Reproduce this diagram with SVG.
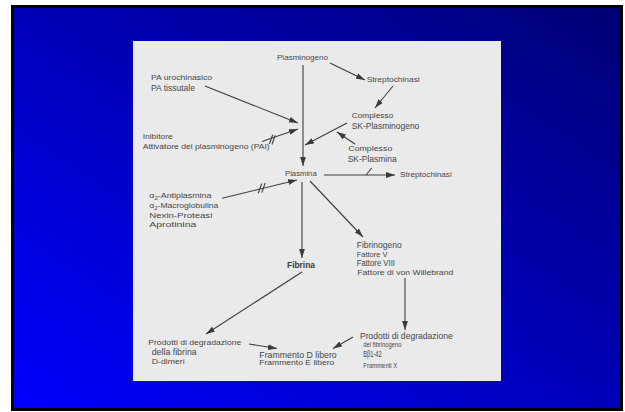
<svg xmlns="http://www.w3.org/2000/svg" width="625" height="412" viewBox="0 0 625 412">
<defs>
<linearGradient id="bg" x1="0" y1="1" x2="1" y2="0">
<stop offset="0" stop-color="#0000ff"/>
<stop offset="1" stop-color="#000074"/>
</linearGradient>
<marker id="ah" markerUnits="userSpaceOnUse" markerWidth="10" markerHeight="7" refX="9" refY="3.5" orient="auto">
<path d="M0,0.6 L9,3.5 L0,6.4 z" fill="#3a3a3a"/>
</marker>
<style>
text{font-family:"Liberation Sans",Arial,sans-serif;fill:#464646}
.s{font-size:6.6px}
.m{font-size:7.4px}
.l{font-size:8.6px}
.b{font-size:8.8px;font-weight:bold;fill:#383838}
.c line,.c path{stroke:#3e3e3e;stroke-width:1.1;fill:none}
.c .a{marker-end:url(#ah)}
</style>
</defs>
<rect x="0" y="0" width="625" height="412" fill="#ffffff"/>
<rect x="12.5" y="6.5" width="609" height="403" fill="url(#bg)" stroke="#000" stroke-width="3"/>
<rect x="133" y="41" width="368" height="340" fill="#eaeaea"/>

<g class="c" id="connectors">
<line class="a" x1="303" y1="65" x2="303" y2="166"/>
<line class="a" x1="330" y1="63" x2="365" y2="80"/>
<line class="a" x1="393" y1="86" x2="375" y2="108"/>
<line class="a" x1="205" y1="86" x2="298" y2="123"/>
<line class="a" x1="262" y1="141.5" x2="298" y2="129"/>
<line x1="269.3" y1="144" x2="272.7" y2="134.7"/>
<line x1="272" y1="144.5" x2="275.3" y2="135.2"/>
<line class="a" x1="347" y1="123" x2="305" y2="145"/>
<line class="a" x1="355" y1="144" x2="337" y2="132"/>
<line class="a" x1="324" y1="175" x2="395" y2="175"/>
<line x1="366" y1="175" x2="371.7" y2="168"/>
<line class="a" x1="222" y1="198.3" x2="297" y2="180"/>
<line x1="258.3" y1="193.3" x2="261.7" y2="183.6"/>
<line x1="261.8" y1="192.6" x2="265.2" y2="182.9"/>
<line class="a" x1="302" y1="182" x2="302" y2="258"/>
<line class="a" x1="310" y1="181" x2="363" y2="237"/>
<line class="a" x1="302" y1="272" x2="206" y2="334"/>
<line class="a" x1="249" y1="344" x2="277" y2="348.5"/>
<line class="a" x1="405" y1="278" x2="405" y2="330"/>
<line class="a" x1="353" y1="337" x2="333" y2="348.5"/>
</g>

<g id="plasminogeno"><text class="m" x="277" y="59.5" textLength="51" lengthAdjust="spacingAndGlyphs">Plasminogeno</text></g>
<g id="streptochinasi1"><text class="m" x="366.7" y="81.7" textLength="53" lengthAdjust="spacingAndGlyphs">Streptochinasi</text></g>
<g id="pa">
<text class="m" x="151" y="80.3" textLength="61" lengthAdjust="spacingAndGlyphs">PA urochinasico</text>
<text class="l" x="151" y="91" textLength="44" lengthAdjust="spacingAndGlyphs">PA tissutale</text>
</g>
<g id="pai">
<text class="m" x="142.7" y="139" textLength="30" lengthAdjust="spacingAndGlyphs">Inibitore</text>
<text class="s" x="142.7" y="149" textLength="127" lengthAdjust="spacingAndGlyphs">Attivatore del plasminogeno (PAI)</text>
</g>
<g id="sk-plasminogeno">
<text class="m" x="351.7" y="117.5" textLength="41.6" lengthAdjust="spacingAndGlyphs">Complesso</text>
<text class="l" x="351.7" y="129" textLength="67.6" lengthAdjust="spacingAndGlyphs">SK-Plasminogeno</text>
</g>
<g id="sk-plasmina">
<text class="s" x="348.3" y="150.7" textLength="44" lengthAdjust="spacingAndGlyphs">Complesso</text>
<text class="l" x="347.7" y="162" textLength="49" lengthAdjust="spacingAndGlyphs">SK-Plasmina</text>
</g>
<g id="plasmina"><text class="m" x="285" y="175.5" textLength="31.7" lengthAdjust="spacingAndGlyphs">Plasmina</text></g>
<g id="streptochinasi2"><text class="m" x="400" y="176.5" textLength="51.7" lengthAdjust="spacingAndGlyphs">Streptochinasi</text></g>
<g id="inibitori">
<text class="s" x="149.3" y="198" textLength="62" lengthAdjust="spacingAndGlyphs">α<tspan font-size="4.6" dy="1.5">2</tspan><tspan dy="-1.5">-Antiplasmina</tspan></text>
<text class="s" x="149.3" y="208" textLength="69" lengthAdjust="spacingAndGlyphs">α<tspan font-size="4.6" dy="1.5">2</tspan><tspan dy="-1.5">-Macroglobulina</tspan></text>
<text class="s" x="149.3" y="218" textLength="63" lengthAdjust="spacingAndGlyphs">Nexin-Proteasi</text>
<text class="s" x="149.3" y="227" textLength="47" lengthAdjust="spacingAndGlyphs">Aprotinina</text>
</g>
<g id="fibrina"><text class="b" x="287" y="268" textLength="28" lengthAdjust="spacingAndGlyphs">Fibrina</text></g>
<g id="fibrinogeno">
<text class="l" x="356.7" y="247.5" textLength="45" lengthAdjust="spacingAndGlyphs">Fibrinogeno</text>
<text class="s" x="356.7" y="256.5" textLength="30.7" lengthAdjust="spacingAndGlyphs">Fattore V</text>
<text class="l" x="356.7" y="266" textLength="38.3" lengthAdjust="spacingAndGlyphs">Fattore VIII</text>
<text class="s" x="357.3" y="275" textLength="96" lengthAdjust="spacingAndGlyphs">Fattore di von Willebrand</text>
</g>
<g id="pdf-fibrina">
<text class="s" x="148.3" y="344.5" textLength="93" lengthAdjust="spacingAndGlyphs">Prodotti di degradazione</text>
<text class="l" x="151.7" y="354.7" textLength="45" lengthAdjust="spacingAndGlyphs">della fibrina</text>
<text class="s" x="151.7" y="363.5" textLength="33" lengthAdjust="spacingAndGlyphs">D-dimeri</text>
</g>
<g id="frammenti">
<text class="l" x="259.3" y="357.5" textLength="77.4" lengthAdjust="spacingAndGlyphs">Frammento D libero</text>
<text class="s" x="259.3" y="365" textLength="75" lengthAdjust="spacingAndGlyphs">Frammento E libero</text>
</g>
<g id="pdf-fibrinogeno">
<text class="l" x="360" y="339" textLength="92.7" lengthAdjust="spacingAndGlyphs">Prodotti di degradazione</text>
<text class="s" x="363.3" y="347" textLength="38.3" lengthAdjust="spacingAndGlyphs">del fibrinogeno</text>
<text class="l" x="363.3" y="357" textLength="18.3" lengthAdjust="spacingAndGlyphs">Bβ1-42</text>
<text class="s" x="363.3" y="367.5" textLength="34" lengthAdjust="spacingAndGlyphs">Frammenti X</text>
</g>
</svg>
